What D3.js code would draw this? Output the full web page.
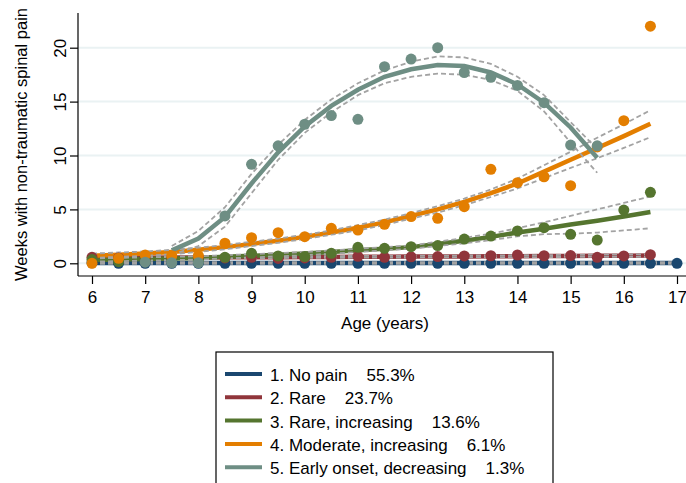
<!DOCTYPE html>
<html>
<head>
<meta charset="utf-8">
<script src="https://cdn.jsdelivr.net/npm/d3@7"></script>
<style>
  body { margin: 0; background: #fff; }
  text { font-family: "Liberation Sans", Arial, sans-serif; }
</style>
</head>
<body>
<svg id="chart" width="686" height="483"></svg>
<script>
// group labels and colours
var groupNames = ['1. No pain', '2. Rare', '3. Rare, increasing', '4. Moderate, increasing', '5. Early onset, decreasing']
var groupShares = ['55.3%', '23.7%', '13.6%', '6.1%', '1.3%']
var groupColors = ['#1a476f', '#90353b', '#55752f', '#e37e00', '#6e8e84']

var xTicks = [6, 7, 8, 9, 10, 11, 12, 13, 14, 15, 16, 17]
var yTicks = [0, 5, 10, 15, 20]

// observed means (points)
var ages1 = [6, 6.5, 7, 7.5, 8, 8.5, 9, 9.5, 10, 10.5, 11, 11.5, 12, 12.5, 13, 13.5, 14, 14.5, 15, 15.5, 16, 16.5, 17]
var obs1 = [0.05, 0, 0, 0, 0, 0, 0, 0, 0, 0, 0, 0, 0, 0, 0, 0, 0, 0, 0, 0, 0, 0, 0]
var ages2 = [6, 6.5, 7, 7.5, 8, 8.5, 9, 9.5, 10, 10.5, 11, 11.5, 12, 12.5, 13, 13.5, 14, 14.5, 15, 15.5, 16, 16.5]
var obs2 = [0.55, 0.5, 0.45, 0.5, 0.6, 0.5, 0.55, 0.45, 0.5, 0.55, 0.65, 0.55, 0.6, 0.62, 0.68, 0.7, 0.77, 0.7, 0.72, 0.55, 0.68, 0.8]
var obs3 = [0.35, 0.15, 0.3, 0.35, 0.25, 0.55, 0.93, 0.68, 0.62, 0.93, 1.48, 1.39, 1.54, 1.64, 2.25, 2.53, 3.0, 3.3, 2.69, 2.16, 4.94, 6.58]
var obs4 = [0.0, 0.46, 0.77, 0.7, 0.7, 1.86, 2.38, 2.84, 2.47, 3.25, 3.09, 3.62, 4.33, 4.17, 5.25, 8.72, 7.48, 8.03, 7.2, 10.8, 13.23, 22.0]
var ages5obs = [7, 7.5, 8, 8.5, 9, 9.5, 10, 10.5, 11, 11.5, 12, 12.5, 13, 13.5, 14, 14.5, 15, 15.5]
var obs5 = [0.1, 0.05, 0.05, 4.39, 9.18, 10.9, 12.9, 13.7, 13.36, 18.24, 18.95, 20.0, 17.7, 17.25, 16.5, 14.9, 10.97, 10.9]

// fitted trajectories with lower / upper confidence limits
var fit1 = [0.02, 0.02, 0.02, 0.02, 0.02, 0.02, 0.02, 0.02, 0.02, 0.02, 0.02, 0.02, 0.02, 0.02, 0.02, 0.02, 0.02, 0.02, 0.02, 0.02, 0.02, 0.02, 0.02]
var lo1 = [-0.05, -0.05, -0.05, -0.05, -0.05, -0.05, -0.05, -0.05, -0.05, -0.05, -0.05, -0.05, -0.05, -0.05, -0.05, -0.05, -0.05, -0.05, -0.05, -0.05, -0.05, -0.05, -0.05]
var hi1 = [0.1, 0.1, 0.1, 0.1, 0.1, 0.1, 0.1, 0.1, 0.1, 0.1, 0.1, 0.1, 0.1, 0.1, 0.1, 0.1, 0.1, 0.1, 0.1, 0.1, 0.1, 0.1, 0.1]

var fit2 = [0.5, 0.51, 0.52, 0.53, 0.54, 0.55, 0.56, 0.57, 0.58, 0.59, 0.6, 0.61, 0.62, 0.63, 0.64, 0.65, 0.66, 0.67, 0.68, 0.69, 0.7, 0.72]
var lo2 = [0.42, 0.43, 0.44, 0.45, 0.46, 0.47, 0.48, 0.49, 0.5, 0.51, 0.52, 0.53, 0.54, 0.55, 0.56, 0.57, 0.58, 0.58, 0.59, 0.59, 0.6, 0.61]
var hi2 = [0.6, 0.6, 0.61, 0.62, 0.62, 0.63, 0.64, 0.65, 0.66, 0.67, 0.68, 0.69, 0.7, 0.71, 0.72, 0.73, 0.75, 0.76, 0.78, 0.8, 0.81, 0.83]

var fit3 = [0.3, 0.35, 0.4, 0.45, 0.5, 0.6, 0.7, 0.8, 0.9, 1.05, 1.2, 1.35, 1.5, 1.8, 2.1, 2.45, 2.85, 3.2, 3.6, 3.95, 4.35, 4.75]
var lo3 = [0.15, 0.2, 0.25, 0.3, 0.35, 0.45, 0.55, 0.65, 0.75, 0.9, 1.05, 1.2, 1.35, 1.6, 1.85, 2.15, 2.5, 2.7, 2.75, 2.85, 3.05, 3.25]
var hi3 = [0.45, 0.5, 0.55, 0.6, 0.65, 0.75, 0.85, 0.95, 1.05, 1.2, 1.35, 1.5, 1.65, 2.0, 2.35, 2.75, 3.25, 3.8, 4.4, 5.0, 5.6, 6.2]

var fit4 = [0.7, 0.8, 0.9, 1.05, 1.25, 1.5, 1.8, 2.1, 2.45, 2.85, 3.3, 3.8, 4.4, 5.0, 5.7, 6.5, 7.4, 8.5, 9.6, 10.7, 11.8, 12.95]
var lo4 = [0.5, 0.6, 0.7, 0.85, 1.05, 1.3, 1.6, 1.9, 2.25, 2.65, 3.05, 3.55, 4.15, 4.7, 5.4, 6.15, 6.95, 7.9, 8.85, 9.75, 10.7, 11.7]
var hi4 = [0.9, 1.0, 1.1, 1.25, 1.45, 1.7, 2.0, 2.3, 2.65, 3.05, 3.55, 4.05, 4.65, 5.3, 6.0, 6.85, 7.85, 9.1, 10.35, 11.65, 12.9, 14.2]

var ages5 = [7.5, 8, 8.5, 9, 9.5, 10, 10.5, 11, 11.5, 12, 12.5, 13, 13.5, 14, 14.5, 15, 15.5]
var fit5 = [1.2, 2.3, 4.3, 7.4, 10.3, 12.7, 14.6, 16.1, 17.3, 18.0, 18.4, 18.3, 17.7, 16.6, 14.9, 12.6, 9.8]
var lo5 = [0.8, 1.6, 3.4, 6.5, 9.6, 12.1, 14.0, 15.6, 16.7, 17.3, 17.6, 17.5, 17.0, 16.0, 14.1, 11.2, 8.4]
var hi5 = [1.6, 3.0, 5.2, 8.3, 11.0, 13.3, 15.2, 16.7, 17.9, 18.7, 19.2, 19.1, 18.5, 17.3, 15.6, 13.1, 10.6]

var groups = [
    { ages: ages1, fit: fit1, lo: lo1, hi: hi1, obsAges: ages1, obs: obs1 },
    { ages: ages2, fit: fit2, lo: lo2, hi: hi2, obsAges: ages2, obs: obs2 },
    { ages: ages2, fit: fit3, lo: lo3, hi: hi3, obsAges: ages2, obs: obs3 },
    { ages: ages2, fit: fit4, lo: lo4, hi: hi4, obsAges: ages2, obs: obs4 },
    { ages: ages5, fit: fit5, lo: lo5, hi: hi5, obsAges: ages5obs, obs: obs5 }
]

var svg = d3.select('#chart')

var x = d3.scaleLinear().domain([6, 17]).range([92, 677])
var y = d3.scaleLinear().domain([0, 20]).range([263.3, 47.7])

// plot frame (no top / right border)
var plotLeft = 78, plotBottom = 276, plotTop = 13, plotRight = 686

// gridlines
svg.append('g').selectAll('line')
    .data(yTicks)
    .join('line')
    .attr('x1', plotLeft).attr('x2', plotRight)
    .attr('y1', d => y(d)).attr('y2', d => y(d))
    .attr('stroke', '#eaf2f3')
    .attr('stroke-width', 2)

// y axis
var yAxis = svg.append('g')
    .attr('transform', `translate(${plotLeft},0)`)
    .call(d3.axisLeft(y).tickValues(yTicks).tickSize(8).tickPadding(0))
yAxis.select('.domain').remove()
yAxis.selectAll('.tick line').attr('stroke', '#000').attr('stroke-width', 1.2)
yAxis.selectAll('.tick text')
    .attr('x', null).attr('dy', null)
    .attr('transform', 'translate(-12,0) rotate(-90)')
    .attr('text-anchor', 'middle')
    .style('font-size', '17px')
    .attr('fill', '#000')
svg.append('line')
    .attr('x1', plotLeft).attr('x2', plotLeft).attr('y1', plotTop).attr('y2', plotBottom)
    .attr('stroke', '#000').attr('stroke-width', 1.2)

// x axis
var xAxis = svg.append('g')
    .attr('transform', `translate(0,${plotBottom})`)
    .call(d3.axisBottom(x).tickValues(xTicks).tickSize(8).tickPadding(3))
xAxis.select('.domain').remove()
xAxis.selectAll('.tick line').attr('stroke', '#000').attr('stroke-width', 1.2)
xAxis.selectAll('.tick text').style('font-size', '17px').attr('fill', '#000').attr('dy', '0.95em')
svg.append('line')
    .attr('x1', plotLeft).attr('x2', plotRight).attr('y1', plotBottom).attr('y2', plotBottom)
    .attr('stroke', '#000').attr('stroke-width', 1.2)

// axis titles
svg.append('text')
    .attr('transform', `translate(27,${(plotTop + plotBottom) / 2}) rotate(-90)`)
    .attr('text-anchor', 'middle')
    .style('font-size', '16.5px')
    .text('Weeks with non-traumatic spinal pain')

svg.append('text')
    .attr('x', 385).attr('y', 329)
    .attr('text-anchor', 'middle')
    .style('font-size', '17px')
    .text('Age (years)')

// fitted lines and CIs
var line = d3.line().x(d => x(d[0])).y(d => y(d[1]))
var plot = svg.append('g')

groups.forEach(function(g, i) {
    plot.append('path')
        .attr('d', line(g.ages.map((a, j) => [a, g.fit[j]])))
        .attr('fill', 'none')
        .attr('stroke', groupColors[i])
        .attr('stroke-width', 4.5)
    ;[g.lo, g.hi].forEach(function(ci) {
        plot.append('path')
            .attr('d', line(g.ages.map((a, j) => [a, ci[j]])))
            .attr('fill', 'none')
            .attr('stroke', '#a3a3a3')
            .attr('stroke-width', 1.8)
            .attr('stroke-dasharray', '5,3')
    })
})

// observed points
groups.forEach(function(g, i) {
    plot.append('g').selectAll('circle')
        .data(g.obsAges.map((a, j) => [a, g.obs[j]]))
        .join('circle')
        .attr('cx', d => x(d[0]))
        .attr('cy', d => y(d[1]))
        .attr('r', 5.5)
        .attr('fill', groupColors[i])
})

// legend
var legend = svg.append('g')
legend.append('rect')
    .attr('x', 216).attr('y', 352)
    .attr('width', 337).attr('height', 160)
    .attr('fill', '#fff')
    .attr('stroke', '#000')
    .attr('stroke-width', 1.2)

var rows = legend.selectAll('.row')
    .data(groupNames)
    .join('g')
    .attr('class', 'row')
    .attr('transform', (d, i) => `translate(0,${374 + i * 23.3})`)

rows.append('line')
    .attr('x1', 225).attr('x2', 262)
    .attr('stroke', (d, i) => groupColors[i])
    .attr('stroke-width', 4)

var labels = rows.append('text')
    .attr('x', 270).attr('y', 7)
    .style('font-size', '17px')
labels.append('tspan').text(d => d)
labels.append('tspan').attr('dx', 19).text((d, i) => groupShares[i])
</script>
</body>
</html>
